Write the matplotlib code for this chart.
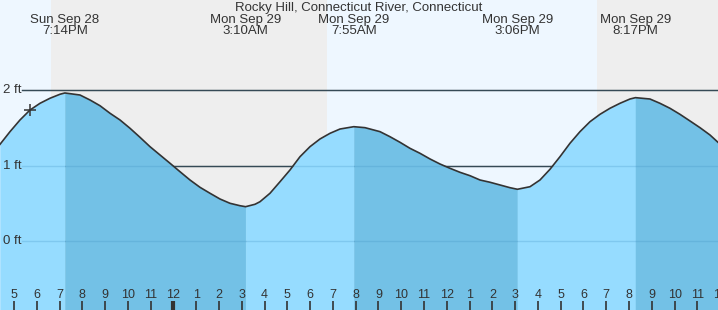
import numpy as np
import matplotlib.pyplot as plt
import matplotlib.transforms as mtransforms

# hours since midnight Sun Sep 28, tide height in ft
hours = [16.385, 16.824, 17.263, 17.702, 18.141, 18.580, 19.019, 19.233, 19.897, 20.336,
         20.775, 21.214, 21.653, 22.092, 22.531, 22.970, 23.409, 23.848, 24.287, 24.726,
         25.165, 25.604, 26.043, 26.482, 26.921, 27.167, 27.580, 27.799, 28.238, 28.677,
         29.116, 29.555, 29.994, 30.433, 30.872, 31.311, 31.917, 32.408, 33.067, 33.506,
         33.945, 34.384, 34.823, 35.262, 35.701, 36.140, 36.579, 37.018, 37.457, 37.896,
         38.335, 38.774, 39.100, 39.652, 40.090, 40.529, 40.968, 41.407, 41.846, 42.285,
         42.724, 43.163, 43.602, 44.041, 44.283, 44.919, 45.358, 45.797, 46.236, 46.675,
         47.114, 47.553, 47.904]
height = [1.282, 1.450, 1.605, 1.737, 1.826, 1.893, 1.946, 1.963, 1.936, 1.870,
          1.794, 1.694, 1.605, 1.495, 1.375, 1.251, 1.141, 1.031, 0.919, 0.809,
          0.712, 0.633, 0.557, 0.500, 0.468, 0.455, 0.487, 0.521, 0.633, 0.786,
          0.942, 1.118, 1.251, 1.353, 1.428, 1.485, 1.516, 1.503, 1.450, 1.383,
          1.309, 1.229, 1.163, 1.088, 1.021, 0.964, 0.911, 0.866, 0.809, 0.779,
          0.743, 0.707, 0.686, 0.720, 0.809, 0.951, 1.118, 1.296, 1.450, 1.582,
          1.680, 1.760, 1.826, 1.883, 1.901, 1.883, 1.826, 1.760, 1.680, 1.592,
          1.503, 1.406, 1.309]

event_hours = [19.233, 27.167, 31.917, 39.100, 44.283]
event_kind = ['high', 'low', 'high', 'low', 'high']
event_day = ['Sun Sep 28', 'Mon Sep 29', 'Mon Sep 29', 'Mon Sep 29', 'Mon Sep 29']
event_time = ['7:14PM', '3:10AM', '7:55AM', '3:06PM', '8:17PM']

night_spans = [(18.62, 30.74), (42.59, 49.0)]
now_hour, now_height = 17.702, 1.737

title = 'Rocky Hill, Connecticut River, Connecticut'
levels = [0, 1, 2]
tick_hours = list(range(17, 49))

plt.rcParams['font.family'] = ['Liberation Sans', 'DejaVu Sans']

t = np.array(hours)
h = np.array(height)
x0, x1 = 16.385, 47.905
y0, y1 = -0.915, 3.196

fig = plt.figure(figsize=(7.18, 3.10), dpi=100)
ax = fig.add_axes([0, 0, 1, 1])
ax.set_xlim(x0, x1)
ax.set_ylim(y0, y1)
ax.axis('off')
tr = mtransforms.blended_transform_factory(ax.transData, ax.transAxes)

ax.axvspan(x0, x1, color='#eef7ff', zorder=0)
for a, b in night_spans:
    ax.axvspan(a, b, color='#eeeeee', zorder=0.5, lw=0)

# grid lines: dark under the water, faint over it
line_start = x0 + 22 / 718 * (x1 - x0)
for lv in levels:
    ax.plot([line_start, x1], [lv, lv], color='#333333', lw=1, zorder=1)
    ax.text(x0 + 3 / 718 * (x1 - x0), lv, f'{lv} ft', ha='left', va='center',
            fontsize=9.5, color='#333333', zorder=6)

bounds = [t[0]] + event_hours + [t[-1]]
kinds = event_kind + ['low' if event_kind[-1] == 'high' else 'high']
for i in range(len(bounds) - 1):
    m = (t >= bounds[i] - 1e-3) & (t <= bounds[i + 1] + 1e-3)
    col = '#96dcff' if kinds[i] == 'high' else '#73c1e6'
    ax.fill_between(t[m], h[m], y0 - 1, color=col, lw=0.3, edgecolor=col, zorder=2)

for lv in levels:
    ax.plot([line_start, x1], [lv, lv], color='#3d8fc0', lw=1, alpha=0.25, zorder=3)

ax.plot(t, h, color='#333333', lw=1.2, zorder=4, solid_joinstyle='round')
ax.plot([now_hour], [now_height], marker='+', ms=9, mew=1.1, color='#333333', zorder=5)

ax.text((x0 + x1) / 2, 1 - 8 / 310, title, transform=tr,
        ha='center', va='center', fontsize=9.5, color='#333333')
for eh, d, tm in zip(event_hours, event_day, event_time):
    ax.text(eh, 1 - 19.5 / 310, d, transform=tr, ha='center', va='center', fontsize=9.5, color='#333333')
    ax.text(eh, 1 - 31.5 / 310, tm, transform=tr, ha='center', va='center', fontsize=9.5, color='#333333')

for th in tick_hours:
    lw = 3 if th % 24 == 0 else 1.2
    ax.plot([th, th], [0, 9 / 310], transform=tr, color='#333333', lw=lw, zorder=6,
            solid_capstyle='butt')
    lab = str((th - 1) % 12 + 1)
    ax.text(th, 15 / 310, lab, transform=tr, ha='center', va='center', fontsize=9,
            color='#333333', zorder=6)

fig.savefig('out.png', dpi=100)
